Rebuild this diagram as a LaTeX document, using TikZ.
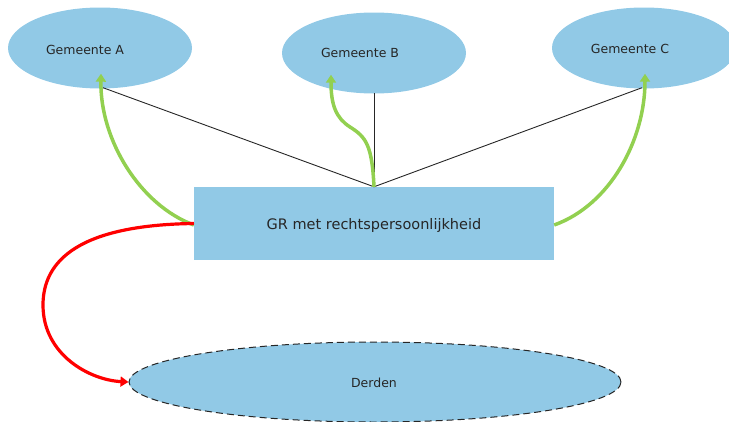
\documentclass[tikz,border=0pt]{standalone}
\usepackage{fontspec}
\setmainfont{DejaVu Sans}
\usetikzlibrary{shapes.geometric,arrows.meta}
\definecolor{fillblue}{RGB}{145,201,230}
\definecolor{greenarr}{RGB}{146,208,80}
\definecolor{redarr}{RGB}{255,0,0}
\tikzset{
  gem/.style={ellipse, fill=fillblue, minimum width=184pt, minimum height=81pt, inner sep=0pt},
  lbl/.style={font=\fontsize{12.5}{14}\selectfont, text=black!85, inner sep=0pt},
  link/.style={draw=black!85, line width=0.9pt},
  garrow/.style={draw=greenarr, line width=3.5pt, -{Triangle[length=8pt,width=10pt]}},
  rarrow/.style={draw=redarr, line width=3.2pt, -{Triangle[length=8pt,width=10pt]}},
}
\begin{document}
\begin{tikzpicture}[x=1pt,y=-1pt]
\useasboundingbox (0,0) rectangle (729,421);
% ellipses
\node[gem] (A) at (100,48) {};
\node[gem] (B) at (374,53) {};
\node[gem] (C) at (644,48) {};
\node[ellipse, fill=fillblue, draw=black!85, dashed, dash pattern=on 7pt off 4pt, line width=1pt,
      minimum width=492pt, minimum height=80pt, inner sep=0pt] (D) at (375,382) {};
% box
\node[rectangle, fill=fillblue, minimum width=360pt, minimum height=73pt, inner sep=0pt] (G) at (374,223.5) {};
% labels
\node[lbl] (At) at (85,50) {Gemeente A};
\node[lbl] (Bt) at (360,53) {Gemeente B};
\node[lbl] (Ct) at (630,49) {Gemeente C};
\node[lbl, font=\fontsize{14.5}{16}\selectfont] (Gt) at (374,225) {GR met rechtspersoonlijkheid};
\node[lbl] (Dt) at (374,383) {Derden};
% black links
\draw[link] (G.north) -- ([xshift=3pt,yshift=1pt]A.south);
\draw[link] (G.north) -- ([yshift=1pt]B.south);
\draw[link] (G.north) -- ([xshift=-2pt,yshift=1pt]C.south);
% green arrows
\draw[garrow] ([yshift=-1.5pt]G.west) .. controls (140,205) and (100,140) .. ([xshift=1pt,yshift=15pt]A.south);
\draw[garrow] (G.north) .. controls (372,145) and (366,137) .. (350,127) .. controls (336,118) and (331,105) .. ([xshift=-43pt,yshift=19pt]B.south);
\draw[garrow] ([yshift=-1.5pt]G.east) .. controls (610,205) and (645,140) .. ([xshift=1pt,yshift=15pt]C.south);
% red arrow
\draw[rarrow] (G.west) .. controls (80,225) and (43,260) .. (43,305) .. controls (43,355) and (90,380) .. (D.west);
\end{tikzpicture}
\end{document}
